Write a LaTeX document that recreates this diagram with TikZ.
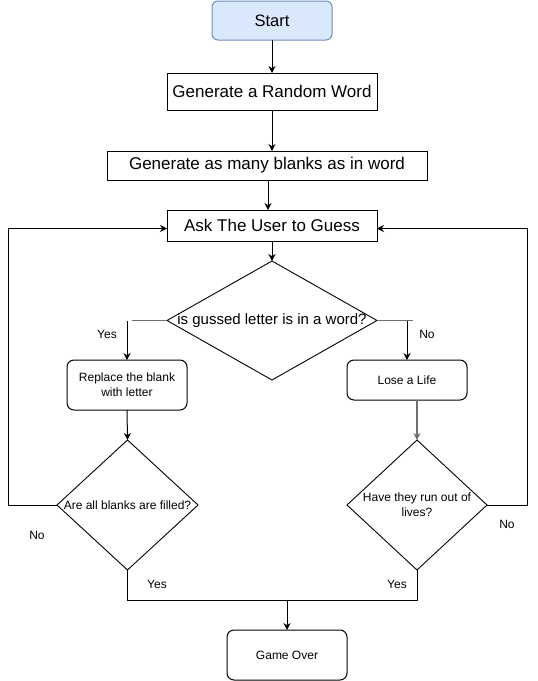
\documentclass[tikz,border=0pt]{standalone}
\usepackage{fontspec}
\setmainfont{Liberation Sans}
\usetikzlibrary{shapes.geometric,arrows.meta}
\definecolor{startfill}{HTML}{DAE8FC}
\definecolor{startdraw}{HTML}{6C8EBF}
\definecolor{stubgray}{HTML}{6F6F6F}
\begin{document}
\begin{tikzpicture}[x=1pt,y=-1pt,
  every node/.style={inner sep=0pt, outer sep=0pt},
  bigtxt/.style={font=\fontsize{17}{20}\selectfont},
  smalltxt/.style={font=\fontsize{12}{15}\selectfont},
  box/.style={draw=black, line width=1pt, rectangle, bigtxt},
  rbox/.style={draw=black, line width=1pt, rectangle, rounded corners=7pt, smalltxt, align=center},
  dia/.style={draw=black, line width=0.9pt, diamond},
  conn/.style={draw=black, line width=1pt},
  arr/.style={conn, -{Stealth[length=7pt,width=7pt]}},
  stub/.style={draw=stubgray, line width=1.4pt},
  garr/.style={draw=stubgray, line width=1.4pt, -{Stealth[length=7pt,width=7pt]}},
  lbl/.style={smalltxt}
]
\useasboundingbox (0,0) rectangle (538,681);

\node[draw=startdraw, fill=startfill, line width=1pt, rounded corners=6pt,
      minimum width=120, minimum height=39, font=\fontsize{16.5}{19}\selectfont]
      (start) at (272,20.5) {Start};
\node[box, minimum width=210, minimum height=37] (gen1) at (272,91.5) {Generate a Random Word};
\node[box, minimum width=320, minimum height=29] (gen2) at (267,165.5) {Generate as many blanks as in word};
\node[box, minimum width=210, minimum height=31] (ask) at (272,225.5) {Ask The User to Guess};

\node[dia, minimum width=210, minimum height=119,
      label={[font=\fontsize{15}{18}\selectfont]center:is gussed letter is in a word?}]
      (d1) at (272,320.5) {};

\node[rbox, minimum width=120, minimum height=50] (rep) at (127,385) {Replace the blank\\with letter};
\node[rbox, minimum width=120, minimum height=40] (lose) at (407,380) {Lose a Life};

\node[dia, minimum width=141, minimum height=130,
      label={[smalltxt]center:Are all blanks are filled?}]
      (d3) at (127.5,505) {};
\node[dia, minimum width=140, minimum height=130,
      label={[smalltxt, align=center]center:{Have they run out of\\lives?}}]
      (d2) at (417,505) {};

\node[rbox, minimum width=120, minimum height=50] (over) at (287,655) {Game Over};

% labels
\node[lbl] (yes1) at (107,334) {Yes};
\node[lbl] (no1) at (427,334) {No};
\node[lbl] (no3) at (37,535) {No};
\node[lbl] (no2) at (507,524) {No};
\node[lbl] (yes3) at (157,584) {Yes};
\node[lbl] (yes2) at (397,584) {Yes};

% helper coordinates
\coordinate (lstub) at (132,320.5);
\coordinate (rstub) at (413,320.5);
\coordinate (lcol) at (8,0);
\coordinate (rcol) at (527,0);
\coordinate (ybar) at (0,600);

% connectors
\draw[arr] (start.south) -- (gen1.north);
\draw[arr] (gen1.south) -- (gen1.south |- gen2.north);
\draw[arr] (gen2.south -| 268,0) -- (ask.north -| 268,0);
\draw[arr] (ask.south) -- (d1.north);

\draw[stub] (d1.west) -- (lstub);
\draw[arr] (d1.west -| rep.north) -- (rep.north);
\draw[stub] (d1.east) -- (rstub);
\draw[arr] (d1.east -| lose.north) -- (lose.north);

\draw[arr] (rep.south) -- (d3.north);
\draw[garr] (d2.north |- lose.south) -- (d2.north);

\draw[arr] (d3.west) -- (d3.west -| lcol) -- ([yshift=-3pt]ask.west -| lcol) -- ([yshift=-3pt]ask.west);
\draw[arr] (d2.east) -- (d2.east -| rcol) -- ([yshift=-3pt]ask.east -| rcol) -- ([yshift=-3pt]ask.east);

\draw[conn] (d3.south) -- (d3.south |- ybar) -- (d2.south |- ybar) -- (d2.south);
\draw[arr] (over.north |- ybar) -- (over.north);
\end{tikzpicture}
\end{document}
